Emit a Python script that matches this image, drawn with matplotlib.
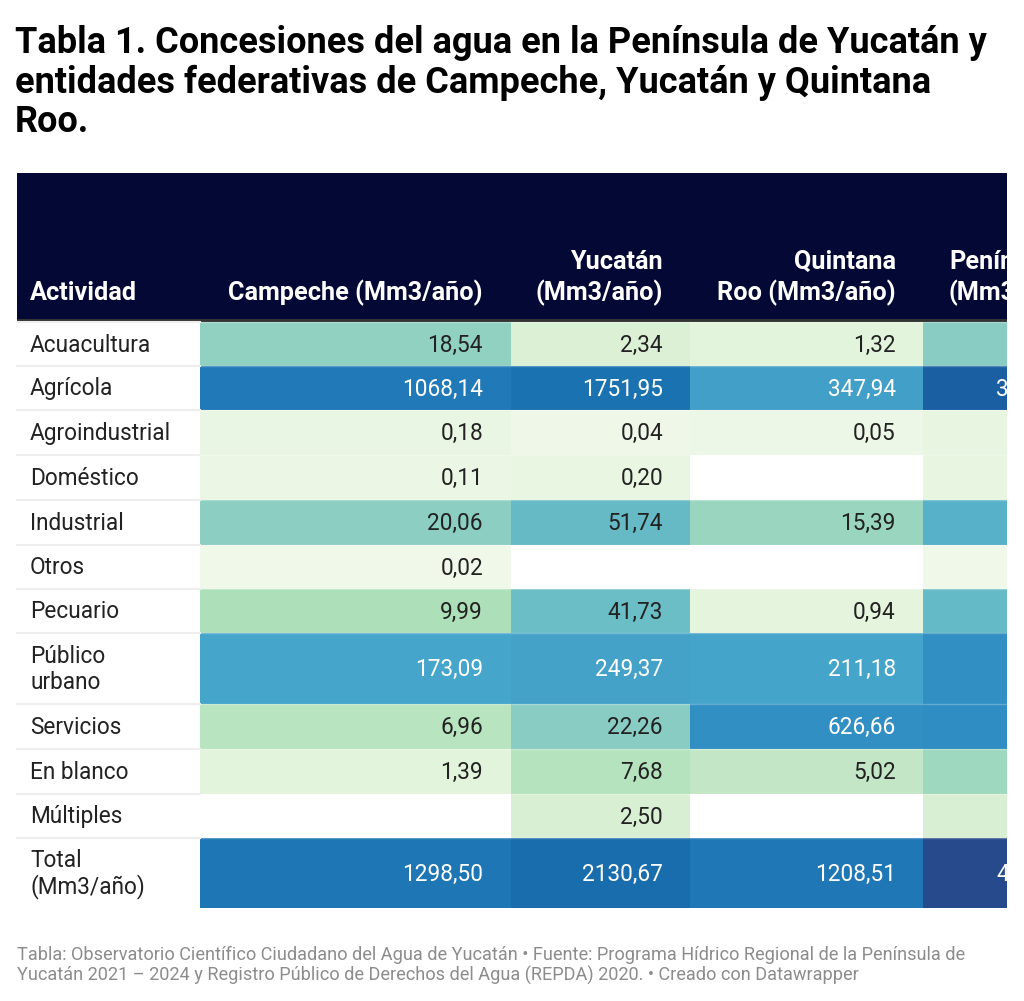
import numpy as np
import matplotlib
matplotlib.use("Agg")
import matplotlib.pyplot as plt
from matplotlib.colors import LinearSegmentedColormap, LogNorm
from matplotlib.patches import Rectangle
from matplotlib.transforms import Bbox

plt.rcParams['font.family'] = ['Roboto', 'DejaVu Sans']

# data
actividades = ["Acuacultura", "Agrícola", "Agroindustrial", "Doméstico", "Industrial",
               "Otros", "Pecuario", "Público\nurbano", "Servicios", "En blanco",
               "Múltiples", "Total\n(Mm3/año)"]
campeche = [18.54, 1068.14, 0.18, 0.11, 20.06, 0.02, 9.99, 173.09, 6.96, 1.39, None, 1298.50]
yucatan = [2.34, 1751.95, 0.04, 0.20, 51.74, None, 41.73, 249.37, 22.26, 7.68, 2.50, 2130.67]
quintana_roo = [1.32, 347.94, 0.05, None, 15.39, None, 0.94, 211.18, 626.66, 5.02, None, 1208.51]
peninsula = [22.20, 3168.03, 0.27, 0.31, 87.19, 0.02, 52.66, 633.64, 655.88, 14.09, 2.50, 4637.68]

columnas = ["Campeche (Mm3/año)", "Yucatán\n(Mm3/año)", "Quintana\nRoo (Mm3/año)",
            "Península\n(Mm3/año)"]

title = ("Tabla 1. Concesiones del agua en la Península de Yucatán y\n"
         "entidades federativas de Campeche, Yucatán y Quintana\nRoo.")
footer = ("Tabla: Observatorio Científico Ciudadano del Agua de Yucatán • Fuente: Programa Hídrico Regional de la Península de\n"
          "Yucatán 2021 – 2024 y Registro Público de Derechos del Agua (REPDA) 2020. • Creado con Datawrapper")

# colour scale (log)
stops = [(0.02, "#f0f8ea"), (1.32, "#e3f4dc"), (2.34, "#dcf0d6"), (5.02, "#c3e7c6"),
         (10.0, "#ade0b9"), (18.5, "#91d1c2"), (41.7, "#6bbec5"), (173.0, "#45a5cb"),
         (348.0, "#43a0c8"), (627.0, "#3190c4"), (1068.0, "#2179b8"), (1752.0, "#1a72b0"),
         (3168.0, "#1862a5"), (4638.0, "#264a8c")]
norm = LogNorm(vmin=stops[0][0], vmax=stops[-1][0])
cmap = LinearSegmentedColormap.from_list(
    "dw", [(float(norm(v)), c) for v, c in stops])

fig = plt.figure(figsize=(10.24, 10.01), dpi=100)
ax = fig.add_axes([0, 0, 1, 1])
ax.set_xlim(0, 1024)
ax.set_ylim(1001, 0)
ax.axis("off")

# table is cut at the right edge (display pixels)
clip_box = Bbox.from_extents(17, 0, 1007, 1001)


def clipped(t):
    t.set_clip_on(True)
    t.set_clip_box(clip_box)
    return t


# title (baseline of last line)
ax.text(15, 132, title, fontsize=26, fontweight="bold", color="#000000",
        va="baseline", ha="left", linespacing=1.12)

# header
ax.add_patch(Rectangle((17, 173), 990, 147, facecolor="#030835", edgecolor="none"))
ax.add_patch(Rectangle((17, 319), 990, 3, facecolor="#333333", edgecolor="none"))

col_edges = [200, 511, 690, 923, 1110]
text_right = [483, 663, 896, 1077]
row_tops = [322, 366, 410, 455, 500, 545, 589, 633, 704, 749, 794, 838, 908]

hdr_size = 18.2
ax.text(30, 300, "Actividad", fontsize=hdr_size, fontweight="bold", color="white",
        ha="left", va="baseline")
for j, name in enumerate(columnas):
    if j == 3:
        t = ax.text(949, 300, name, fontsize=hdr_size, fontweight="bold", color="white",
                    ha="left", va="baseline", multialignment="left", linespacing=1.26)
    else:
        t = ax.text(text_right[j], 300, name, fontsize=hdr_size, fontweight="bold",
                    color="white", ha="right", va="baseline", multialignment="right",
                    linespacing=1.26)
    clipped(t)

body_size = 16.3
series = [campeche, yucatan, quintana_roo, peninsula]
for i, act in enumerate(actividades):
    y0, y1 = row_tops[i], row_tops[i + 1]
    yc = (y0 + y1) / 2
    ax.text(30, yc + 1, act, fontsize=body_size, color="#222222", ha="left", va="center",
            linespacing=1.12)
    ax.plot([17, 200], [y0, y0], color="#eeeeee", lw=1.5, zorder=3)
    for j, vals in enumerate(series):
        v = vals[i]
        x0, x1 = col_edges[j], col_edges[j + 1]
        if v is None:
            fc = "white"
        else:
            fc = cmap(norm(v))
        p = ax.add_patch(Rectangle((x0, y0), x1 - x0, y1 - y0, facecolor=fc, edgecolor="none"))
        p.set_clip_box(clip_box)
        if v is not None:
            lum = np.dot(matplotlib.colors.to_rgb(fc), [0.299, 0.587, 0.114])
            tc = "white" if lum < 0.6 else "#222222"
            s = f"{v:.2f}".replace(".", ",")
            clipped(ax.text(text_right[j], yc + 1, s, fontsize=body_size, color=tc,
                            ha="right", va="center"))
    ax.plot([200, 1007], [y0, y0], color="white", lw=1, alpha=0.25, zorder=3)

ax.text(17, 981, footer, fontsize=13.1, color="#8c8c8c", ha="left", va="baseline",
        linespacing=1.12)

fig.savefig("out.png", dpi=100, facecolor="white")
